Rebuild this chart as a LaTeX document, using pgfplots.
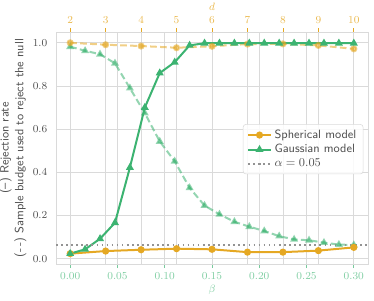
\documentclass[border=0pt]{standalone}
\usepackage{pgfplots}
\pgfplotsset{compat=1.18}
\definecolor{cor}{RGB}{229,168,35}
\definecolor{cgr}{RGB}{60,179,113}
\definecolor{gridc}{RGB}{218,218,218}
\definecolor{txt}{RGB}{80,80,80}
\pgfplotstableread{
b s sb
0.0000 0.023 1.000
0.0375 0.035 0.991
0.0750 0.041 0.985
0.1125 0.046 0.977
0.1500 0.043 0.984
0.1875 0.030 0.994
0.2250 0.030 0.995
0.2625 0.037 0.988
0.3000 0.052 0.972
}\sph
\pgfplotstableread{
b g gb
0.000000 0.023 0.982
0.015789 0.043 0.963
0.031579 0.092 0.947
0.047368 0.166 0.905
0.063158 0.422 0.790
0.078947 0.700 0.674
0.094737 0.860 0.543
0.110526 0.910 0.451
0.126316 0.988 0.328
0.142105 0.998 0.246
0.157895 0.998 0.205
0.173684 0.998 0.171
0.189474 0.998 0.148
0.205263 0.998 0.128
0.221053 0.998 0.104
0.236842 0.998 0.089
0.252632 0.998 0.085
0.268421 0.998 0.074
0.284211 0.998 0.065
0.300000 0.998 0.063
}\gau
\begin{document}
\begin{tikzpicture}
\useasboundingbox (-42pt,-27pt) rectangle (238.5pt,198pt);
\begin{axis}[at={(0,0)},anchor=south west,scale only axis,width=234pt,height=174pt,
 xmin=-0.015,xmax=0.315,ymin=-0.025,ymax=1.05,
 axis x line*=top, axis y line=none,
 xtick={0,0.0375,0.075,0.1125,0.15,0.1875,0.225,0.2625,0.3},
 xticklabels={2,3,4,5,6,7,8,9,10},
 xmajorgrids, grid style={gridc, line width=0.6pt},
 axis line style={gridc},
 x tick style={cor, line width=0.6pt}, major tick length=3pt, tick align=outside,
 x tick label style={text=cor!80!white, font=\footnotesize},
 xlabel={$d$}, xlabel style={text=cor!80!white, font=\footnotesize, yshift=-3pt},
]
\end{axis}
\begin{axis}[at={(0,0)},anchor=south west,scale only axis,width=234pt,height=174pt,
 xmin=-0.015,xmax=0.315,ymin=-0.025,ymax=1.05,
 xtick={0,0.05,0.10,0.15,0.20,0.25,0.30},
 xticklabels={0.00,0.05,0.10,0.15,0.20,0.25,0.30},
 ytick={0,0.2,0.4,0.6,0.8,1.0},
 yticklabels={0.0,0.2,0.4,0.6,0.8,1.0},
 xmajorgrids, ymajorgrids, grid style={gridc, line width=0.6pt},
 axis line style={gridc, line width=0.6pt},
 xtick pos=left, tick align=outside, major tick length=3pt,
 x tick style={cgr!70!white, line width=0.6pt},
 y tick style={draw=none},
 x tick label style={text=cgr!65!white, font=\footnotesize},
 y tick label style={text=txt, font=\footnotesize},
 xlabel={$\beta$}, xlabel style={text=cgr!65!white, font=\footnotesize, yshift=3pt},
 ylabel={(--) Rejection rate\\(-\,-) Sample budget used to reject the null},
 ylabel style={align=center, font=\sffamily\small, text=txt, yshift=-2pt},
 legend style={at={(0.985,0.495)}, anchor=east, draw=gridc, rounded corners=2pt,
   fill=white, fill opacity=0.85, text opacity=1, font=\sffamily\small, text=txt,
   row sep=-1pt},
 legend cell align=left,
]
\addplot[cgr, opacity=0.55, line width=1.5pt, dash pattern=on 5pt off 2.5pt, mark=triangle*, mark size=2pt, mark options={solid}, forget plot] table[x=b,y=gb]{\gau};
\addplot[cor, opacity=0.55, line width=1.5pt, dash pattern=on 5pt off 2.5pt, mark=*, mark size=1.9pt, mark options={solid}, forget plot] table[x=b,y=sb]{\sph};
\addplot[cor, line width=1.5pt, mark=*, mark size=1.9pt] table[x=b,y=s]{\sph};
\addlegendentry{Spherical model}
\addplot[cgr, line width=1.5pt, mark=triangle*, mark size=2pt] table[x=b,y=g]{\gau};
\addlegendentry{Gaussian model}
\addplot[gray!85, line width=1.3pt, dash pattern=on 1.2pt off 2.6pt] coordinates {(-0.015,0.063) (0.315,0.063)};
\addlegendentry{$\alpha=0.05$}
\end{axis}
\end{tikzpicture}
\end{document}
